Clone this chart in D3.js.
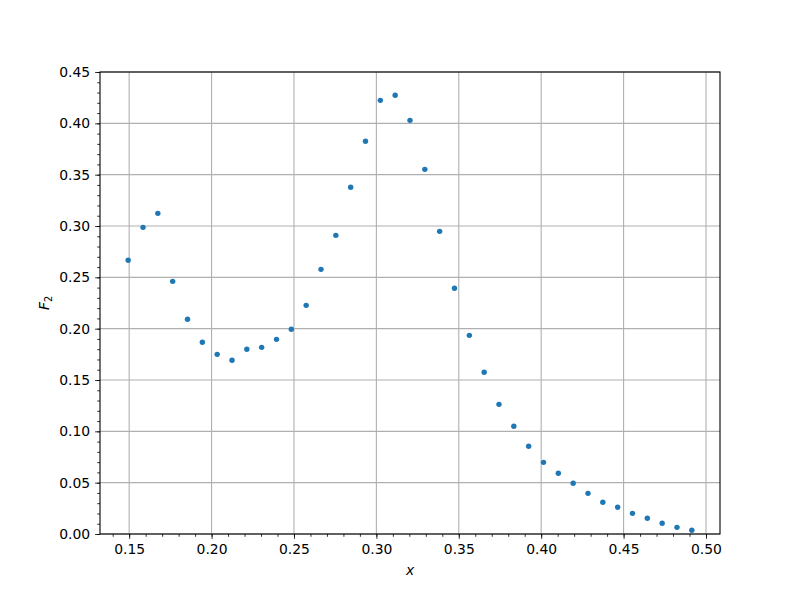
<!DOCTYPE html>
<html>
<head>
<meta charset="utf-8">
<script src="https://cdn.jsdelivr.net/npm/d3@7"></script>
<style>
  body { margin: 0; background: #fff; }
  svg { display: block; font-family: "DejaVu Sans", sans-serif; }
</style>
</head>
<body>
<svg id="chart" width="800" height="600"></svg>
<script>
const xValues = [0.1494, 0.1584, 0.1674, 0.1764, 0.1854, 0.1944, 0.2034, 0.2124, 0.2214, 0.2304,
  0.2394, 0.2484, 0.2574, 0.2664, 0.2754, 0.2844, 0.2934, 0.3024, 0.3114, 0.3204,
  0.3294, 0.3384, 0.3474, 0.3564, 0.3654, 0.3744, 0.3834, 0.3924, 0.4014, 0.4104,
  0.4194, 0.4284, 0.4374, 0.4464, 0.4554, 0.4644, 0.4734, 0.4824, 0.4914];
const f2Values = [0.2666, 0.2987, 0.3123, 0.2461, 0.2091, 0.1867, 0.1750, 0.1692, 0.1799, 0.1818,
  0.1896, 0.1994, 0.2227, 0.2578, 0.2909, 0.3377, 0.3825, 0.4224, 0.4273, 0.4029,
  0.3552, 0.2948, 0.2393, 0.1935, 0.1575, 0.1263, 0.1049, 0.0854, 0.0698, 0.0591,
  0.0494, 0.0396, 0.0309, 0.0260, 0.0201, 0.0153, 0.0104, 0.0065, 0.0036];
const xTicks = [0.15, 0.20, 0.25, 0.30, 0.35, 0.40, 0.45, 0.50];
const yTicks = [0.00, 0.05, 0.10, 0.15, 0.20, 0.25, 0.30, 0.35, 0.40, 0.45];

const svg = d3.select("#chart");
const L = 100, R = 720, T = 72, B = 534;

const xMin = d3.min(xValues), xMax = d3.max(xValues);
const pad = (xMax - xMin) * 0.05;
const x = d3.scaleLinear().domain([xMin - pad, xMax + pad]).range([L, R]);
const y = d3.scaleLinear().domain([0, 0.45]).range([B, T]);

const xMinor = d3.range(14, 51).map(d => d / 100).filter(d => d >= x.domain()[0] && d <= x.domain()[1]);
const yMinor = d3.range(0, 46).map(d => d / 100);

// grid
const grid = svg.append("g");
grid.selectAll("line.gx").data(xTicks).join("line")
  .attr("x1", d => x(d)).attr("x2", d => x(d)).attr("y1", T).attr("y2", B)
  .attr("stroke", "#b0b0b0").attr("stroke-width", 1.1);
grid.selectAll("line.gy").data(yTicks).join("line")
  .attr("y1", d => y(d)).attr("y2", d => y(d)).attr("x1", L).attr("x2", R)
  .attr("stroke", "#b0b0b0").attr("stroke-width", 1.1);

// points
svg.append("g").selectAll("circle").data(xValues).join("circle")
  .attr("cx", d => x(d)).attr("cy", (d, i) => y(f2Values[i]))
  .attr("r", 2.7).attr("fill", "#1f77b4");

// axes
const xAxis = d3.axisBottom(x).tickValues(xTicks).tickFormat(d3.format(".2f")).tickSize(4.9).tickPadding(4.9);
const xAxisMinor = d3.axisBottom(x).tickValues(xMinor).tickFormat("").tickSize(2.8);
const yAxis = d3.axisLeft(y).tickValues(yTicks).tickFormat(d3.format(".2f")).tickSize(4.9).tickPadding(4.9);
const yAxisMinor = d3.axisLeft(y).tickValues(yMinor).tickFormat("").tickSize(2.8);

function style(g) {
  g.select(".domain").remove();
  g.selectAll("line").attr("stroke", "#000").attr("stroke-width", 0.8);
  g.selectAll("text").attr("font-size", "13.9px").attr("fill", "#000").attr("font-family", "DejaVu Sans");
}
svg.append("g").attr("transform", `translate(0,${B})`).call(xAxisMinor).call(style);
svg.append("g").attr("transform", `translate(0,${B})`).call(xAxis).call(style);
svg.append("g").attr("transform", `translate(${L},0)`).call(yAxisMinor).call(style);
svg.append("g").attr("transform", `translate(${L},0)`).call(yAxis).call(style);

// frame
svg.append("rect").attr("x", L).attr("y", T).attr("width", R - L).attr("height", B - T)
  .attr("fill", "none").attr("stroke", "#000").attr("stroke-width", 1.1);

// labels
svg.append("text").attr("x", (L + R) / 2).attr("y", 575).attr("text-anchor", "middle")
  .attr("font-size", "13.9px").attr("font-style", "italic").attr("font-family", "DejaVu Sans").text("x");
const yl = svg.append("text").attr("transform", `translate(49,${(T + B) / 2}) rotate(-90)`)
  .attr("text-anchor", "middle").attr("font-size", "13.9px").attr("font-family", "DejaVu Sans");
yl.append("tspan").attr("font-style", "italic").text("F");
yl.append("tspan").attr("font-size", "9.7px").attr("dy", 3).text("2");
</script>
</body>
</html>
